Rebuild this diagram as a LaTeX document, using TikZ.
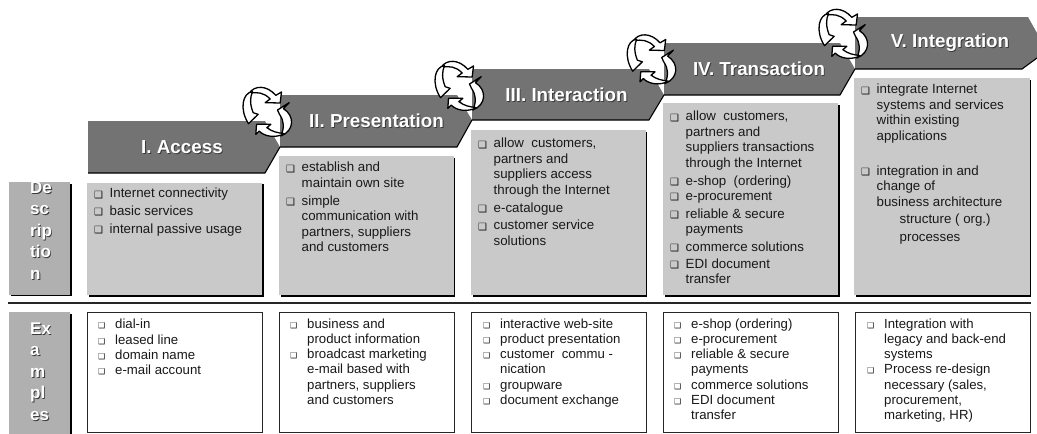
\documentclass[tikz,border=0pt]{standalone}
\usepackage{fontspec}
\setmainfont{Liberation Sans}
\newfontfamily\dvfont{DejaVu Sans}
\definecolor{chev}{HTML}{737373}
\definecolor{descbg}{HTML}{C9C9C9}
\definecolor{sidebg}{HTML}{B0B0B0}
\definecolor{shadowc}{HTML}{3A3A3A}
\newcommand\blt{\makebox[15.5pt][l]{\raisebox{-0.3pt}{\dvfont\fontsize{10}{10}\selectfont ❑}}}
\newcommand\blx{\makebox[17pt][l]{\dvfont\fontsize{8}{8}\selectfont ❑}}
\newcommand\shd[1]{\leavevmode\rlap{\raisebox{-0.9pt}{\kern0.9pt\textcolor{shadowc}{#1}}}#1}
\tikzset{
  chevron/.style={fill=chev,draw=none},
  chevedge/.style={draw=black,line width=1.1pt},
  titletext/.style={text=white,inner sep=0pt,font=\bfseries\fontsize{18.8}{20}\selectfont},
  sidetext/.style={text=white,anchor=north west,inner sep=0pt,font=\bfseries\fontsize{17}{21.5}\selectfont},
  desctext/.style={anchor=north west,inner sep=0pt,text=black!90,font=\fontsize{13.3}{15.4}\selectfont},
  extext/.style={anchor=north west,inner sep=0pt,text=black!90,font=\fontsize{13.2}{15.2}\selectfont},
  boxshadow/.style={fill=black,draw=none},
  descbox/.style={fill=descbg,draw=none},
  sidebox/.style={fill=sidebg,draw=none},
  exbox/.style={fill=white,draw=black!85,line width=0.9pt},
  cyclearrow/.style={fill=white,draw=black,line width=1.3pt,line join=round},
  cycleicon/.pic={
    \begin{scope}[scale=0.3333,shift={(-128,-115)}]
      \path[cyclearrow] (70,62) .. controls (85,38) and (122,36) .. (150,68) -- (167,58) -- (163,91) -- (118,90) -- (133,79) .. controls (115,60) and (95,57) .. (70,62) -- cycle;
      \path[cyclearrow] (80,57) .. controls (50,60) and (40,110) .. (68,153) -- (97,125) -- (82,120) .. controls (72,95) and (72,75) .. (80,57) -- cycle;
      \path[cyclearrow] (165,190) .. controls (205,175) and (208,130) .. (173,108) -- (190,90) -- (155,112) -- (161,125) .. controls (175,145) and (176,165) .. (165,190) -- cycle;
      \path[cyclearrow] (175,183) .. controls (150,197) and (115,192) .. (100,175) -- (90,185) -- (92,155) -- (135,155) -- (123,165) .. controls (140,178) and (155,180) .. (175,183) -- cycle;
    \end{scope}
  }
}
\begin{document}
\begin{tikzpicture}[x=1pt,y=-1pt]
\useasboundingbox (0,0) rectangle (1037,434);
% side boxes
\path[boxshadow] (11,184) rectangle (72,296);
\path[sidebox] (9,182) rectangle (70,294.5);
\path[boxshadow] (11,314) rectangle (72,434);
\path[sidebox] (9,312) rectangle (70,434);
% description boxes
\path[boxshadow] (89,184) rectangle (264,296.5);
\path[descbox] (87,182.5) rectangle (262,295);
\path[boxshadow] (281,158) rectangle (455,296.5);
\path[descbox] (279,156) rectangle (453.5,295);
\path[boxshadow] (473,132) rectangle (647,296.5);
\path[descbox] (471,130) rectangle (645.5,295);
\path[boxshadow] (665,105) rectangle (839.5,296.5);
\path[descbox] (663,103) rectangle (838,295);
\path[boxshadow] (856,80) rectangle (1031,296.5);
\path[descbox] (854,78) rectangle (1029.5,295);
% separating rule
\draw[black!85,line width=1.6pt] (8,303) -- (1031,303);
% example boxes
\path[exbox] (87.5,312) rectangle (262.5,432);
\path[exbox] (279.5,312) rectangle (454,432);
\path[exbox] (471.5,312) rectangle (646,432);
\path[exbox] (663.5,312) rectangle (838.5,432);
\path[exbox] (855,312) rectangle (1030,432);
% chevrons
\path[chevron] (88,121) -- (265,121) -- (280,147) -- (265,173) -- (88,173) -- cycle;
\draw[chevedge] (88,173) -- (265,173) -- (280,147);
\path[chevron] (280,95) -- (457,95) -- (472,120) -- (457,147) -- (280,147) -- cycle;
\draw[chevedge] (280,147) -- (457,147) -- (472,120);
\path[chevron] (472,69) -- (649,69) -- (664,95) -- (649,120) -- (472,120) -- cycle;
\draw[chevedge] (472,120) -- (649,120) -- (664,95);
\path[chevron] (664,43) -- (840,43) -- (855,69) -- (840,95) -- (664,95) -- cycle;
\draw[chevedge] (664,95) -- (840,95) -- (855,69);
\path[chevron] (855,17) -- (1028,17) -- (1037,33) -- (1037,58) -- (1022,69) -- (855,69) -- cycle;
\draw[chevedge] (855,69) -- (1022,69) -- (1037,58);
% titles
\node[titletext] (t1) at (182,148) {\shd{I. Access}};
\node[titletext] (t2) at (376.5,121.5) {\shd{II. Presentation}};
\node[titletext] (t3) at (566.5,95) {\shd{III. Interaction}};
\node[titletext] (t4) at (759,69.5) {\shd{IV. Transaction}};
\node[titletext] (t5) at (950,43) {\shd{V. Integration}};
% cycle icons
\pic at (268.5,111) {cycleicon};
\pic at (460.5,85) {cycleicon};
\pic at (652.7,58.5) {cycleicon};
\pic at (844.5,33) {cycleicon};
% side labels
\node[sidetext] (sd) at (30,178) {\begin{tabular}{@{}l@{}}\shd{De}\\\shd{sc}\\\shd{rip}\\\shd{tio}\\\shd{n}\end{tabular}};
\node[sidetext] (se) at (30,319) {\begin{tabular}{@{}l@{}}\shd{Ex}\\\shd{a}\\\shd{m}\\\shd{pl}\\\shd{es}\end{tabular}};
% description texts
\node[desctext] (d1) at (94,187) {\begin{tabular}{@{}l@{}l@{}}
\blt&Internet connectivity\\[2.2pt]
\blt&basic services\\[2.2pt]
\blt&internal passive usage
\end{tabular}};
\node[desctext] (d2) at (286,161) {\begin{tabular}{@{}l@{}l@{}}
\blt&establish and\\
&maintain own site\\[2.5pt]
\blt&simple\\
&communication with\\
&partners, suppliers\\
&and customers
\end{tabular}};
\node[desctext] (d3) at (478,137) {\begin{tabular}{@{}l@{}l@{}}
\blt&allow\ \ customers,\\
&partners and\\
&suppliers access\\
&through the Internet\\[2.5pt]
\blt&e-catalogue\\[2.5pt]
\blt&customer service\\
&solutions
\end{tabular}};
\node[desctext] (d4) at (670,110) {\begin{tabular}{@{}l@{}l@{}}
\blt&allow\ \ customers,\\
&partners and\\
&suppliers transactions\\
&through the Internet\\[2.5pt]
\blt&e-shop\ \ (ordering)\\
\blt&e-procurement\\[2.5pt]
\blt&reliable \& secure\\
&payments\\[2.5pt]
\blt&commerce solutions\\[1.5pt]
\blt&EDI document\\
&transfer
\end{tabular}};
\node[desctext] (d5) at (861,83) {\begin{tabular}{@{}l@{}l@{}}
\blt&integrate Internet\\
&systems and services\\
&within existing\\
&applications\\[20pt]
\blt&integration in and\\
&change of\\
&business architecture\\[1.5pt]
&\hspace{23pt}structure ( org.)\\[2.5pt]
&\hspace{23pt}processes
\end{tabular}};
% example texts
\node[extext] (e1) at (98,318) {\begin{tabular}{@{}l@{}l@{}}
\blx&dial-in\\
\blx&leased line\\
\blx&domain name\\
\blx&e-mail account
\end{tabular}};
\node[extext] (e2) at (290,317.5) {\begin{tabular}{@{}l@{}l@{}}
\blx&business and\\
&product information\\
\blx&broadcast marketing\\
&e-mail based with\\
&partners, suppliers\\
&and customers
\end{tabular}};
\node[extext] (e3) at (483,317.5) {\begin{tabular}{@{}l@{}l@{}}
\blx&interactive web-site\\
\blx&product presentation\\
\blx&customer\ \ commu -\\
&nication\\
\blx&groupware\\
\blx&document exchange
\end{tabular}};
\node[extext] (e4) at (674,317.5) {\begin{tabular}{@{}l@{}l@{}}
\blx&e-shop (ordering)\\
\blx&e-procurement\\
\blx&reliable \& secure\\
&payments\\
\blx&commerce solutions\\
\blx&EDI document\\
&transfer
\end{tabular}};
\node[extext] (e5) at (867,317.5) {\begin{tabular}{@{}l@{}l@{}}
\blx&Integration with\\
&legacy and back-end\\
&systems\\
\blx&Process re-design\\
&necessary (sales,\\
&procurement,\\
&marketing, HR)
\end{tabular}};
\end{tikzpicture}
\end{document}
